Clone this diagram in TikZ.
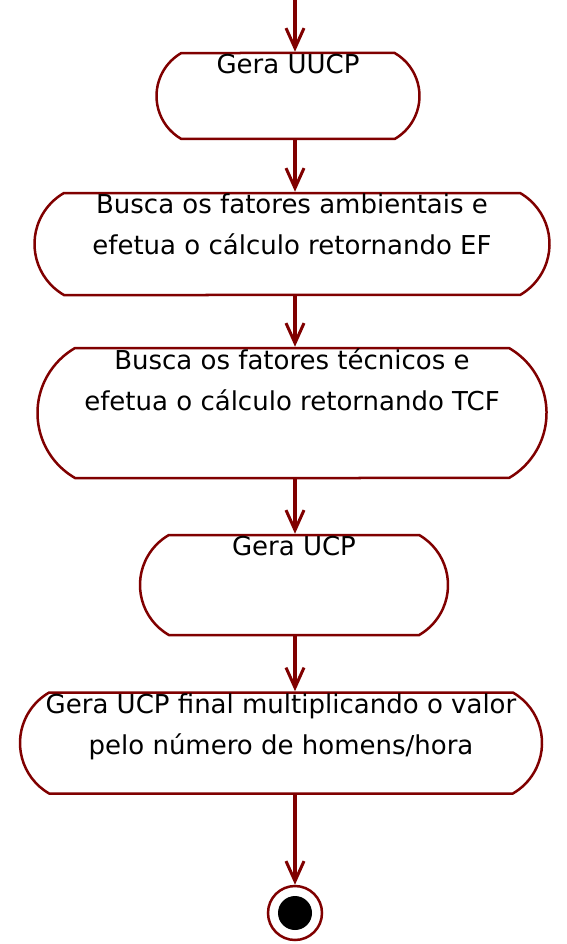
\documentclass[tikz,border=0pt]{standalone}
\usepackage{fontspec}
\setmainfont{DejaVu Sans}
\usetikzlibrary{shapes.misc,arrows.meta}
\definecolor{marrom}{HTML}{800000}
\begin{document}
\begin{tikzpicture}[x=1pt,y=-1pt,
	acao/.style={rounded rectangle,rounded rectangle arc length=120,draw=marrom,line width=2.5pt,inner sep=0pt},
	txt/.style={font=\fontsize{26}{41}\selectfont,align=center,inner sep=0pt,anchor=north,yshift=-2pt},
	seta/.style={draw=marrom,line width=3.5pt,-{Straight Barb[length=20pt,width=18pt,line width=3pt]}},
	fim/.style={circle,draw=marrom,line width=2.5pt,minimum size=54pt,inner sep=0pt,path picture={\fill[black] (path picture bounding box.center) circle (17pt);}}]
	\useasboundingbox (0,0) rectangle (566,944);
	\coordinate (ini) at (295,0);
	\node[acao,minimum width=263pt,minimum height=86pt,label={[txt]north:Gera UUCP}] (a1) at (288,96) {};
	\node[acao,minimum width=515pt,minimum height=102pt,label={[txt]north:Busca os fatores ambientais e\\efetua o cálculo retornando EF}] (a2) at (292,244) {};
	\node[acao,minimum width=509pt,minimum height=130pt,label={[txt]north:Busca os fatores técnicos e\\efetua o cálculo retornando TCF}] (a3) at (292,413) {};
	\node[acao,minimum width=308pt,minimum height=100pt,label={[txt]north:Gera UCP}] (a4) at (294,585) {};
	\node[acao,minimum width=522pt,minimum height=101pt,label={[txt]north:Gera UCP final multiplicando o valor\\pelo número de homens/hora}] (a5) at (281,743) {};
	\node[fim] (f) at (295,913) {};
	% transicoes
	\draw[seta] (ini) -- (ini |- a1.north);
	\draw[seta] (ini |- a1.south) -- (ini |- a2.north);
	\draw[seta] (ini |- a2.south) -- (ini |- a3.north);
	\draw[seta] (ini |- a3.south) -- (ini |- a4.north);
	\draw[seta] (ini |- a4.south) -- (ini |- a5.north);
	\draw[seta] (ini |- a5.south) -- (f);
\end{tikzpicture}
\end{document}
